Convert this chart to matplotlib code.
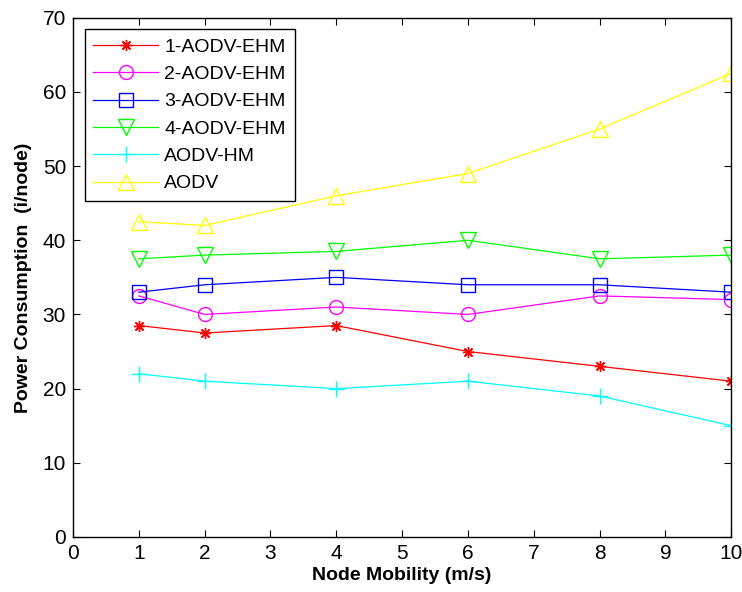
import matplotlib.pyplot as plt

plt.rcParams['font.family'] = ['Liberation Sans', 'DejaVu Sans']

mobility = [1, 2, 4, 6, 8, 10]
ehm1 = [28.5, 27.5, 28.5, 25, 23, 21]
ehm2 = [32.5, 30, 31, 30, 32.5, 32]
ehm3 = [33, 34, 35, 34, 34, 33]
ehm4 = [37.5, 38, 38.5, 40, 37.5, 38]
aodv_hm = [22, 21, 20, 21, 19, 15]
aodv = [42.5, 42, 46, 49, 55, 62.5]

labels = ['1-AODV-EHM', '2-AODV-EHM', '3-AODV-EHM', '4-AODV-EHM', 'AODV-HM', 'AODV']
series = [ehm1, ehm2, ehm3, ehm4, aodv_hm, aodv]
colors = ['#ff0000', '#ff00ff', '#0000ff', '#00ff00', '#00ffff', '#ffff00']
markers = [(8, 2, 0), 'o', 's', 'v', '+', '^']
msizes = [8, 10, 10, 11, 11, 11]

fig = plt.figure(figsize=(7.42, 5.92), dpi=100)
ax = fig.add_axes([0.0984, 0.093, 0.887, 0.877])

for y, lab, c, m, ms in zip(series, labels, colors, markers, msizes):
    ax.plot(mobility, y, color=c, marker=m, markersize=ms, markerfacecolor='none',
            markeredgecolor=c, markeredgewidth=1.0, linewidth=0.9, label=lab)

ax.set_xlim(0, 10)
ax.set_ylim(0, 70)
ax.set_xticks(range(0, 11))
ax.set_yticks(range(0, 71, 10))
ax.tick_params(direction='in', top=True, right=True, labelsize=15, length=5, pad=5)
for s in ax.spines.values():
    s.set_linewidth(1.0)

ax.set_xlabel('Node Mobility (m/s)', fontsize=14, fontweight='bold', labelpad=3)
ax.set_ylabel('Power Consumption  (i/node)', fontsize=14, fontweight='bold', labelpad=8)

leg = ax.legend(loc='upper left', bbox_to_anchor=(0.0, 1.0), fontsize=14,
                frameon=True, fancybox=False, edgecolor='black', framealpha=1,
                handlelength=3.3, labelspacing=0.5, borderpad=0.45, handletextpad=0.35,
                borderaxespad=0.6)
leg.get_frame().set_linewidth(1.0)

fig.savefig('out.png', dpi=100)
